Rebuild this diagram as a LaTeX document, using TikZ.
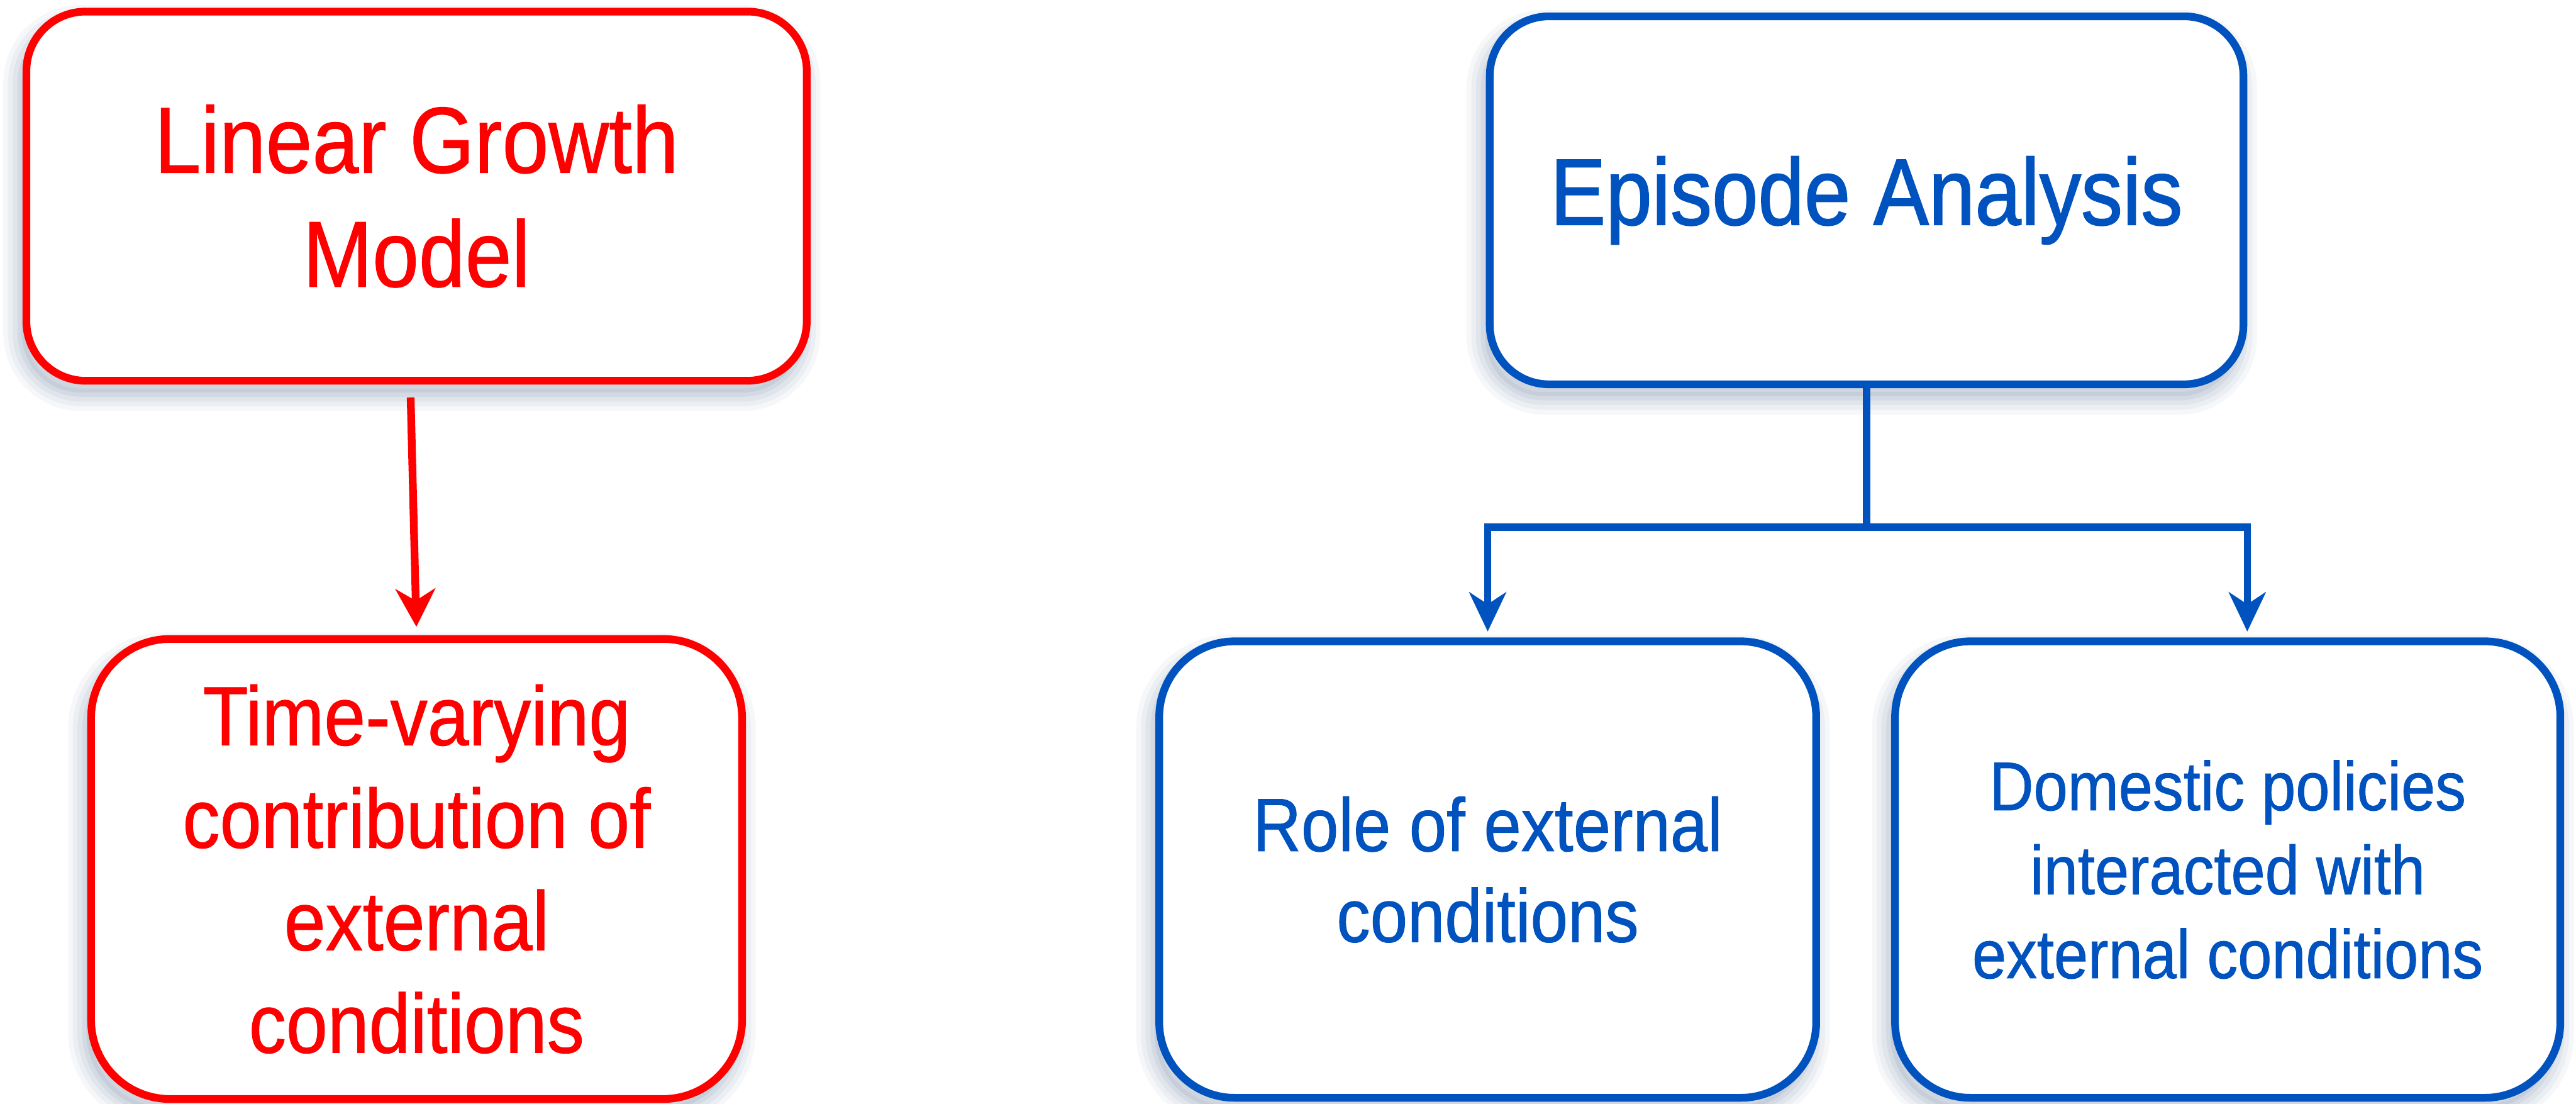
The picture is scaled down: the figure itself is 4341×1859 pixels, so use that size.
\documentclass[tikz,border=0pt]{standalone}
\usepackage{fontspec}
\usetikzlibrary{arrows.meta,shadows}
\newfontfamily\nar[FakeStretch=0.89,FakeBold=0.8]{Liberation Sans}
\newfontfamily\narE[FakeStretch=0.88,FakeBold=1.2]{Liberation Sans}
\definecolor{myred}{RGB}{255,0,0}
\definecolor{myblue}{RGB}{0,82,190}
\definecolor{shc}{RGB}{70,95,135}
\tikzset{
  boxshadow/.style={
    general shadow={fill=shc, fill opacity=0.10, shadow xshift=-8pt, shadow yshift=-20pt},
    general shadow={draw=shc, draw opacity=0.07, line width=14pt, line join=round, shadow xshift=-8pt, shadow yshift=-20pt},
    general shadow={draw=shc, draw opacity=0.07, line width=30pt, line join=round, shadow xshift=-8pt, shadow yshift=-20pt},
    general shadow={draw=shc, draw opacity=0.06, line width=46pt, line join=round, shadow xshift=-8pt, shadow yshift=-20pt},
    general shadow={draw=shc, draw opacity=0.05, line width=62pt, line join=round, shadow xshift=-8pt, shadow yshift=-20pt}
  },
  rbox/.style={draw=myred, line width=13pt, fill=white, rounded corners=#1, boxshadow,
    inner sep=0pt, align=center, text=myred},
  bbox/.style={draw=myblue, line width=13pt, fill=white, rounded corners=#1, boxshadow,
    inner sep=0pt, align=center, text=myblue},
  redarrow/.style={draw=myred, line width=13pt,
    -{Stealth[length=64pt, width=67pt, inset=20pt]}},
  blueline/.style={draw=myblue, line width=12pt},
  bluearrow/.style={draw=myblue, line width=12pt,
    -{Stealth[length=66pt, width=62pt, inset=20pt]}}
}
\begin{document}
\begin{tikzpicture}[x=1pt,y=-1pt]
\useasboundingbox (0,0) rectangle (4341,1859);
% red column
\node[rbox=100pt, minimum width=1315pt, minimum height=622pt,
      font={\nar\fontsize{158}{192}\selectfont}] (rt) at (702,330.5)
      {Linear Growth\\Model};
\node[rbox=133pt, minimum width=1097pt, minimum height=775pt,
      font={\nar\fontsize{141}{172.7}\selectfont}] (rb) at (702,1464)
      {Time-varying\\contribution of\\external\\conditions};
\draw[redarrow, shorten >=14pt] ([xshift=-10pt,yshift=-21.5pt]rt.south) -- (rb.north);
% blue column
\node[bbox=100pt, minimum width=1270pt, minimum height=620pt,
      font={\narE\fontsize{159}{192}\selectfont}] (bt) at (3145.5,337.5)
      {Episode Analysis};
\node[bbox=127pt, minimum width=1107pt, minimum height=769pt,
      font={\nar\fontsize{127}{153}\selectfont}] (bl) at (2507,1465)
      {Role of external\\conditions};
\node[bbox=127pt, minimum width=1121pt, minimum height=769pt,
      font={\nar\fontsize{116}{141.5}\selectfont}] (br) at (3754,1465)
      {Domestic policies\\interacted with\\external conditions};
\coordinate (j) at (3145.5,888);
\draw[blueline] (bt.south) -- (j);
\draw[bluearrow, shorten >=10pt] (j) -| (bl.north);
\draw[bluearrow, shorten >=10pt] (j) -| (br.north -| bt.east);
\end{tikzpicture}
\end{document}
